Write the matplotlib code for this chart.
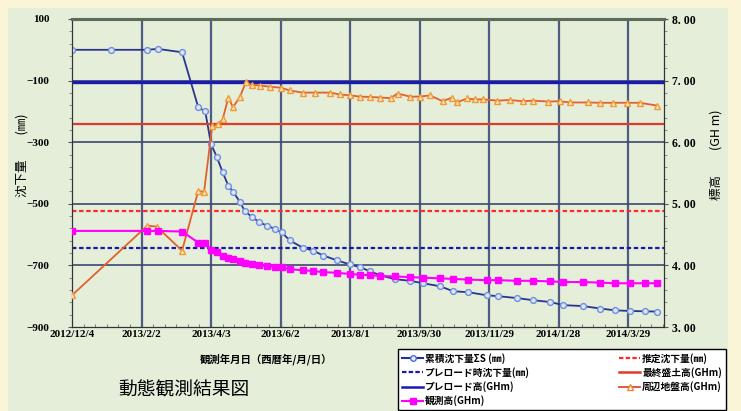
import datetime as dt
import matplotlib
matplotlib.use("Agg")
import matplotlib.pyplot as plt
from matplotlib.patches import Rectangle
from matplotlib.lines import Line2D
import matplotlib.dates as mdates

# ---------------- data ----------------
settle_dates = ["2012-12-04", "2013-01-07", "2013-02-07", "2013-02-16", "2013-03-09",
                "2013-03-23", "2013-03-29", "2013-04-03", "2013-04-08", "2013-04-13",
                "2013-04-18", "2013-04-22", "2013-04-28", "2013-05-02", "2013-05-08",
                "2013-05-14", "2013-05-21", "2013-05-28", "2013-06-03", "2013-06-10",
                "2013-06-21", "2013-06-30", "2013-07-09", "2013-07-21", "2013-08-01",
                "2013-08-10", "2013-08-18", "2013-08-27", "2013-09-09", "2013-09-22",
                "2013-10-03", "2013-10-18", "2013-10-29", "2013-11-11", "2013-11-27",
                "2013-12-07", "2013-12-23", "2014-01-06", "2014-01-21", "2014-02-01",
                "2014-02-18", "2014-03-05", "2014-03-18", "2014-03-31", "2014-04-13",
                "2014-04-23"]
settlement_mm = [0, 0, 0, 3, -8,
                 -187, -200, -306, -348, -397,
                 -442, -461, -494, -523, -542,
                 -558, -571, -581, -593, -619,
                 -642, -652, -668, -684, -697,
                 -706, -719, -732, -745, -750,
                 -758, -768, -784, -787, -797,
                 -800, -806, -813, -819, -829,
                 -832, -840, -846, -848, -849,
                 -850]

obs_dates = ["2012-12-04", "2013-02-07", "2013-02-16", "2013-03-09",
             "2013-03-23", "2013-03-29", "2013-04-03", "2013-04-08", "2013-04-13",
             "2013-04-18", "2013-04-22", "2013-04-28", "2013-05-02", "2013-05-08",
             "2013-05-14", "2013-05-21", "2013-05-28", "2013-06-03", "2013-06-10",
             "2013-06-21", "2013-06-30", "2013-07-09", "2013-07-21", "2013-08-01",
             "2013-08-10", "2013-08-18", "2013-08-27", "2013-09-09", "2013-09-22",
             "2013-10-03", "2013-10-18", "2013-10-29", "2013-11-11", "2013-11-27",
             "2013-12-07", "2013-12-23", "2014-01-06", "2014-01-21", "2014-02-01",
             "2014-02-18", "2014-03-05", "2014-03-18", "2014-03-31", "2014-04-13",
             "2014-04-23"]
observed_m = [4.56, 4.56, 4.56, 4.55,
              4.37, 4.36, 4.25, 4.21, 4.16,
              4.12, 4.10, 4.07, 4.04, 4.02,
              4.00, 3.99, 3.98, 3.97, 3.94,
              3.92, 3.91, 3.89, 3.88, 3.86,
              3.85, 3.84, 3.83, 3.82, 3.81,
              3.80, 3.79, 3.78, 3.77, 3.76,
              3.76, 3.75, 3.75, 3.74, 3.73,
              3.73, 3.72, 3.71, 3.71, 3.71,
              3.71]

ground_dates = ["2012-12-04", "2013-02-07", "2013-02-15", "2013-03-09", "2013-03-23",
                "2013-03-28", "2013-04-04", "2013-04-09", "2013-04-13", "2013-04-18",
                "2013-04-22", "2013-04-28", "2013-05-03", "2013-05-08", "2013-05-15",
                "2013-05-24", "2013-06-02", "2013-06-10", "2013-06-21", "2013-07-02",
                "2013-07-15", "2013-07-23", "2013-08-01", "2013-08-10", "2013-08-18",
                "2013-08-27", "2013-09-05", "2013-09-11", "2013-09-22", "2013-09-30",
                "2013-10-09", "2013-10-20", "2013-10-28", "2013-11-01", "2013-11-10",
                "2013-11-17", "2013-11-24", "2013-12-06", "2013-12-17", "2013-12-28",
                "2014-01-06", "2014-01-19", "2014-01-29", "2014-02-07", "2014-02-22",
                "2014-03-05", "2014-03-16", "2014-03-28", "2014-04-08", "2014-04-23"]
ground_m = [3.515, 4.645, 4.63, 4.24, 5.21,
            5.195, 6.26, 6.29, 6.37, 6.725,
            6.565, 6.74, 6.97, 6.935, 6.92,
            6.90, 6.885, 6.84, 6.805, 6.805,
            6.805, 6.775, 6.76, 6.74, 6.735,
            6.725, 6.715, 6.79, 6.74, 6.74,
            6.76, 6.665, 6.725, 6.645, 6.71,
            6.695, 6.695, 6.675, 6.685, 6.665,
            6.675, 6.66, 6.665, 6.645, 6.645,
            6.64, 6.64, 6.64, 6.64, 6.595]

estimated_settlement_mm = -525
preload_settlement_mm = -645
preload_height_m = 6.98
final_fill_height_m = 6.30

xtick_labels = ["2012/12/4", "2013/2/2", "2013/4/3", "2013/6/2", "2013/8/1",
                "2013/9/30", "2013/11/29", "2014/1/28", "2014/3/29"]
x_start, x_end = "2012-12-04", "2014-04-29"
left_ticks = [100, -100, -300, -500, -700, -900]
right_ticks = [3, 4, 5, 6, 7, 8]

# ---------------- helpers ----------------
def d(s):
    return dt.datetime.strptime(s, "%Y-%m-%d")

def dl(s):
    return dt.datetime.strptime(s, "%Y/%m/%d")

CJK = ["Noto Sans CJK JP", "DejaVu Sans"]
SERIF = ["Liberation Serif", "DejaVu Serif"]

W, H = 741, 411
fig = plt.figure(figsize=(W / 100, H / 100), dpi=100)
fig.patch.set_facecolor("#faf5d7")
fig.add_artist(Rectangle((8 / W, 0), (728 - 8) / W, 1 - 8 / H, transform=fig.transFigure,
                         facecolor="#e4eed9", edgecolor="none", zorder=-5))

ax1 = fig.add_axes([72 / W, 1 - 327 / H, (664 - 72) / W, (327 - 19) / H])
ax1.set_facecolor("#e4eed9")
ax2 = ax1.twinx()

# limits
ax1.set_xlim(d(x_start), d(x_end))
ax1.set_ylim(-900, 100)
ax2.set_ylim(3, 8)

# grid
xt = [dl(s) for s in xtick_labels]
ax1.set_xticks(xt)
ax1.set_xticklabels(xtick_labels, fontfamily=SERIF, fontsize=8, fontweight="bold")
minor_x = [d(x_start) + dt.timedelta(days=10 * k) for k in range(52)]
ax1.set_xticks(minor_x, minor=True)
for t in xt[1:]:
    ax1.axvline(t, color="#4f5b82", lw=1.6, zorder=1)
for v in [-100, -300, -500, -700]:
    ax1.axhline(v, color="#3c4870", lw=1.2, zorder=1)

ax1.set_yticks(left_ticks)
ax1.set_yticklabels([str(v).replace("-", "\u2212") for v in left_ticks],
                    fontfamily=SERIF, fontsize=8, fontweight="bold")
ax1.set_yticks(list(range(-900, 101, 40)), minor=True)
ax2.set_yticks(right_ticks)
ax2.set_yticklabels([("%.2f" % v).replace(".", ". ") for v in right_ticks],
                    fontfamily=SERIF, fontsize=8.5, fontweight="bold")
ax2.set_yticks([3 + 0.2 * k for k in range(26)], minor=True)

ax1.tick_params(axis="y", which="major", length=3, pad=13, direction="out", color="#555")
ax1.tick_params(axis="y", which="minor", length=2, direction="out", color="#777")
ax1.tick_params(axis="x", which="major", length=0, pad=2)
ax1.tick_params(axis="x", which="minor", length=2.5, direction="in", color="#666")
ax2.tick_params(axis="y", which="major", length=3, pad=3, direction="out", color="#555")
ax2.tick_params(axis="y", which="minor", length=2, direction="out", color="#777")

for ax in (ax1, ax2):
    ax.spines["top"].set_color("#5d6b5d")
    ax.spines["top"].set_linewidth(2.2)
    ax.spines["bottom"].set_color("#333333")
    ax.spines["left"].set_color("#333333")
    ax.spines["right"].set_color("#333333")

# reference lines
ax1.axhline(estimated_settlement_mm, color="#ff2a2a", lw=1.6, ls=(0, (2, 1.2)), zorder=2)
ax1.axhline(preload_settlement_mm, color="#1a1aa0", lw=1.6, ls=(0, (2, 1.2)), zorder=2)
ax2.axhline(preload_height_m, color="#1a1ab0", lw=2.4, zorder=2)
ax2.axhline(final_fill_height_m, color="#e03a2a", lw=1.6, zorder=2)

# series
ax1.plot([d(s) for s in settle_dates], settlement_mm, color="#2a3590", lw=1.3,
         marker="o", ms=4.2, mfc="#dce6f6", mec="#6f8fe0", mew=1.0, zorder=4)
ax2.plot([d(s) for s in ground_dates], ground_m, color="#e4602c", lw=1.3,
         marker="^", ms=4.5, mfc="#fbe3b8", mec="#f09a3a", mew=1.0, zorder=4)
ax2.plot([d(s) for s in obs_dates], observed_m, color="#ff00ff", lw=1.5,
         marker="s", ms=5, mfc="#ff00ff", mec="#ff00ff", zorder=5)

# labels
fig.text(22 / W, 1 - 155 / H, "沈下量　　(㎜)", rotation=90, ha="center", va="center",
         fontsize=9, family=CJK)
fig.text(716 / W, 1 - 155 / H, "標高　　(GH m)", rotation=90, ha="center", va="center",
         fontsize=9, family=CJK)
fig.text(266 / W, 1 - 359 / H, "観測年月日（西暦年/月/日）", ha="center", va="center",
         fontsize=7.5, family=CJK, fontweight="bold")
fig.text(184 / W, 1 - 390 / H, "動態観測結果図", ha="center", va="center",
         fontsize=13.5, family=CJK)

# legend
handles = [
    Line2D([], [], color="#1f33a0", lw=1.5, marker="o", ms=4, mfc="#e6edf8", mec="#4a6ad8"),
    Line2D([], [], color="#1a1ab0", lw=1.6, ls=(0, (2, 1))),
    Line2D([], [], color="#1a1ab0", lw=1.8),
    Line2D([], [], color="#ff00ff", lw=1.5, marker="s", ms=5, mfc="#ff00ff", mec="#ff00ff"),
    Line2D([], [], color="#ff2a2a", lw=1.6, ls=(0, (2, 1))),
    Line2D([], [], color="#e03a2a", lw=1.8),
    Line2D([], [], color="#e04a30", lw=1.3, marker="^", ms=5, mfc="white", mec="#f08a30"),
]
labels = ["累積沈下量ΣS (㎜)", "プレロード時沈下量(㎜)", "プレロード高(GHm)", "観測高(GHm)",
          "推定沈下量(㎜)", "最終盛土高(GHm)", "周辺地盤高(GHm)"]
leg = fig.legend(handles, labels, loc="upper left", ncol=2,
                 bbox_to_anchor=(398 / W, 0, (726 - 398) / W, 1 - 349 / H),
                 mode="expand", prop={"family": CJK, "size": 7, "weight": "bold"},
                 frameon=True, fancybox=False, framealpha=1, edgecolor="black",
                 handlelength=2.2, handletextpad=0.2, labelspacing=0.35,
                 borderpad=0.4, columnspacing=2.5, borderaxespad=0)
leg.get_frame().set_linewidth(1.0)

fig.savefig("out.png", dpi=100, facecolor=fig.get_facecolor())
